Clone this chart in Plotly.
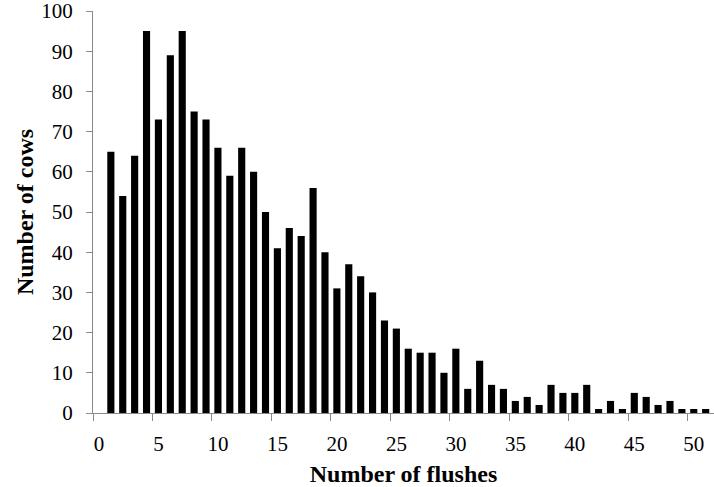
import plotly.graph_objects as go

flushes = list(range(1, 52))
cows = [65, 54, 64, 95, 73, 89, 95, 75, 73, 66,
        59, 66, 60, 50, 41, 46, 44, 56, 40, 31,
        37, 34, 30, 23, 21, 16, 15, 15, 10, 16,
        6, 13, 7, 6, 3, 4, 2, 7, 5, 5,
        7, 1, 3, 1, 5, 4, 2, 3, 1, 1,
        1]
x_tick_labels = [str(v) for v in range(0, 51, 5)]
y_tick_values = list(range(0, 101, 10))

axis_color = "#8a8a8a"
font_family = "Liberation Serif, Times New Roman, serif"

fig = go.Figure()
fig.add_trace(go.Bar(x=flushes, y=cows, marker=dict(color="black", line=dict(width=0)),
                     width=0.6))

fig.update_layout(
    width=714, height=487,
    margin=dict(l=93, r=0, t=11, b=74),
    paper_bgcolor="white", plot_bgcolor="white",
    showlegend=False,
    font=dict(family=font_family, color="black", size=21),
)
fig.update_xaxes(
    range=[-0.5, 51.7],
    tickmode="array",
    tickvals=[int(v) - 0.5 for v in x_tick_labels],
    ticktext=x_tick_labels,
    ticklabelshift=6,
    ticklabelstandoff=5,
    ticklabeloverflow="allow",
    ticks="outside", ticklen=7, tickcolor=axis_color, tickwidth=1.3,
    showline=True, linecolor=axis_color, linewidth=1.3,
    showgrid=False, zeroline=False,
    tickfont=dict(size=21, family=font_family),
    title=dict(text="<b>Number of flushes</b>", font=dict(size=24, family=font_family), standoff=10),
)
fig.update_yaxes(
    range=[0, 100],
    tickmode="array", tickvals=y_tick_values,
    ticks="outside", ticklen=6, tickcolor=axis_color, tickwidth=1.3,
    showline=True, linecolor=axis_color, linewidth=1.3,
    showgrid=False, zeroline=False,
    tickfont=dict(size=21, family=font_family),
    ticklabelstandoff=9,
    ticklabeloverflow="allow",
    title=dict(text="<b>Number of cows</b>", font=dict(size=24, family=font_family), standoff=0),
)

fig.write_html("out.html", config={"displayModeBar": False},
               post_script="document.body.style.margin='0';")
